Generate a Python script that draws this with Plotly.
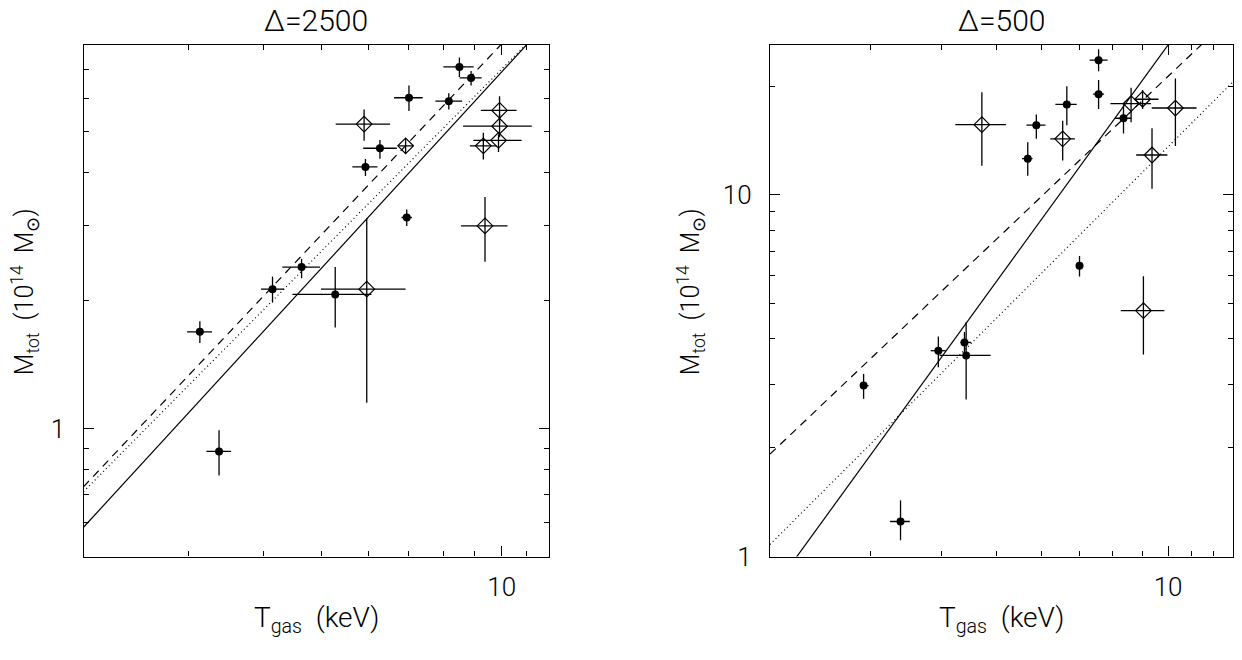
import numpy as np
import plotly.graph_objects as go

# ---------------- Delta = 2500 ----------------
# filled circles
c1_T    = [8.50, 8.89, 7.00, 8.16, 6.26, 5.92, 6.94, 4.63, 4.14, 5.27, 3.13, 3.37]
c1_T_lo = [7.99, 8.51, 6.61, 7.75, 5.87, 5.63, 6.80, 4.30, 3.96, 4.47, 2.98, 3.21]
c1_T_hi = [8.98, 9.26, 7.38, 8.59, 6.68, 6.20, 7.08, 4.97, 4.33, 6.06, 3.28, 3.53]
c1_M    = [7.10, 6.69, 6.01, 5.90, 4.57, 4.13, 3.14, 2.40, 2.13, 2.07, 1.69, 0.884]
c1_M_lo = [6.72, 6.42, 5.59, 5.64, 4.32, 3.93, 3.00, 2.26, 1.98, 1.73, 1.59, 0.776]
c1_M_hi = [7.47, 6.95, 6.42, 6.16, 4.78, 4.31, 3.28, 2.51, 2.28, 2.40, 1.79, 0.992]
# open diamonds
d1_T    = [5.89, 6.91, 9.92, 9.92, 9.88, 9.32, 9.38, 5.95]
d1_T_lo = [5.28, 6.72, 9.23, 8.62, 8.97, 8.85, 8.55, 4.99]
d1_T_hi = [6.51, 7.12, 10.59, 11.23, 10.80, 9.81, 10.23, 6.91]
d1_M    = [5.21, 4.63, 5.61, 5.15, 4.77, 4.63, 3.00, 2.13]
d1_M_lo = [4.76, 4.44, 5.21, 4.85, 4.48, 4.30, 2.47, 1.15]
d1_M_hi = [5.64, 4.81, 6.06, 5.50, 4.93, 4.97, 3.51, 3.13]
# power-law relations: M = norm * (T/2)^slope  (solid, dashed, dotted)
fit1_norm  = [0.586, 0.730, 0.711]
fit1_slope = [1.533, 1.491, 1.4225]

# ---------------- Delta = 500 ----------------
c2_T    = [7.55, 7.55, 6.64, 5.87, 5.67, 8.35, 6.99, 2.92, 3.95, 4.39, 4.42, 3.39]
c2_T_lo = [7.28, 7.38, 6.34, 5.64, 5.54, 8.07, 6.90, 2.88, 3.83, 4.32, 3.97, 3.25]
c2_T_hi = [7.83, 7.72, 6.91, 6.09, 5.78, 8.61, 7.08, 2.98, 4.07, 4.51, 4.88, 3.52]
c2_M    = [23.6, 19.0, 17.8, 15.6, 12.6, 16.3, 6.37, 2.97, 3.71, 3.91, 3.60, 1.25]
c2_M_lo = [22.0, 17.3, 15.6, 14.3, 11.3, 14.8, 5.95, 2.73, 3.34, 3.64, 2.72, 1.11]
c2_M_hi = [25.3, 20.8, 20.0, 16.7, 14.0, 17.8, 6.78, 3.20, 4.06, 4.18, 4.45, 1.43]
d2_T    = [4.71, 6.53, 8.61, 9.02, 10.3, 9.37, 9.05]
d2_T_lo = [4.23, 6.21, 7.92, 8.75, 9.36, 8.79, 8.26]
d2_T_hi = [5.19, 6.86, 9.33, 9.62, 11.22, 9.97, 9.85]
d2_M    = [15.65, 14.3, 17.9, 18.4, 17.4, 12.9, 4.79]
d2_M_lo = [12.05, 12.45, 15.9, 17.3, 13.66, 10.4, 3.62]
d2_M_hi = [19.25, 16.05, 19.8, 19.5, 21.0, 15.3, 5.96]
fit2_norm  = [0.79, 1.92, 1.08]
fit2_slope = [2.171, 1.495, 1.574]

titles = ["Δ=2500", "Δ=500"]
x_ranges = [(2, 12), (2, 13)]
y_ranges = [(0.5, 8), (1, 26)]

FONT = "Roboto"
fig = go.Figure()


def err(v, lo, hi, color="black"):
    v, lo, hi = map(np.asarray, (v, lo, hi))
    return dict(type="data", symmetric=False, array=hi - v, arrayminus=v - lo,
                width=0, thickness=1.3, color=color)


def add_panel(idx, cT, cTl, cTh, cM, cMl, cMh, dT, dTl, dTh, dM, dMl, dMh, norm, slope):
    xa = "x" if idx == 0 else "x2"
    ya = "y" if idx == 0 else "y2"
    lo, hi = x_ranges[idx]
    tt = np.geomspace(lo, hi * 1.2, 200)
    styles = ["solid", "8px,6px", "1px,3px"]
    for n, s, dash in zip(norm, slope, styles):
        fig.add_trace(go.Scatter(x=tt, y=n * (tt / 2.0) ** s, mode="lines",
                                 line=dict(color="black", width=1.2, dash=dash),
                                 xaxis=xa, yaxis=ya, showlegend=False, hoverinfo="skip"))
    fig.add_trace(go.Scatter(x=dT, y=dM, mode="markers",
                             marker=dict(symbol="diamond-open", size=12, color="black",
                                         line=dict(width=1.2, color="black")),
                             error_x=err(dT, dTl, dTh), error_y=err(dM, dMl, dMh),
                             xaxis=xa, yaxis=ya, showlegend=False))
    fig.add_trace(go.Scatter(x=cT, y=cM, mode="markers",
                             marker=dict(symbol="circle", size=8, color="black"),
                             error_x=err(cT, cTl, cTh), error_y=err(cM, cMl, cMh),
                             xaxis=xa, yaxis=ya, showlegend=False))


add_panel(0, c1_T, c1_T_lo, c1_T_hi, c1_M, c1_M_lo, c1_M_hi,
          d1_T, d1_T_lo, d1_T_hi, d1_M, d1_M_lo, d1_M_hi, fit1_norm, fit1_slope)
add_panel(1, c2_T, c2_T_lo, c2_T_hi, c2_M, c2_M_lo, c2_M_hi,
          d2_T, d2_T_lo, d2_T_hi, d2_M, d2_M_lo, d2_M_hi, fit2_norm, fit2_slope)

W, H = 1242, 660
x_dom = [(83.5 / W, 549 / W), (770 / W, 1233 / W)]
y_dom = ((H - 569.5) / H, (H - 46) / H)


def axis_common():
    return dict(type="log", showgrid=False, zeroline=False, showline=True,
                linecolor="black", linewidth=1.4, mirror="allticks",
                ticks="inside", ticklen=10, tickwidth=1.2, tickcolor="black",
                tickfont=dict(family=FONT, size=26, color="black", weight=300))


x_minor = [2, 3, 4, 5, 6, 7, 8, 9, 11, 12, 13]
y_minor = [0.5, 0.6, 0.7, 0.8, 0.9, 2, 3, 4, 5, 6, 7, 8, 9, 20]

layout = dict(width=W, height=H, margin=dict(l=0, r=0, t=0, b=0),
              paper_bgcolor="white", plot_bgcolor="white",
              font=dict(family=FONT, color="black", weight=300))
for i in range(2):
    sx = "" if i == 0 else "2"
    xa = axis_common()
    xa.update(domain=list(x_dom[i]), anchor="y" + sx,
              range=[np.log10(x_ranges[i][0]), np.log10(x_ranges[i][1])],
              tickmode="array", tickvals=[10], ticktext=["10"], ticklabelstandoff=7,
              minor=dict(tickmode="array", tickvals=x_minor, ticks="inside",
                         ticklen=5, tickwidth=1.2, tickcolor="black"))
    ya = axis_common()
    ya.update(domain=list(y_dom), anchor="x" + sx,
              range=[np.log10(y_ranges[i][0]), np.log10(y_ranges[i][1])],
              tickmode="array", tickvals=[1, 10], ticktext=["1", "10"], ticklabelstandoff=12,
              minor=dict(tickmode="array", tickvals=y_minor, ticks="inside",
                         ticklen=5, tickwidth=1.2, tickcolor="black"))
    layout["xaxis" + sx] = xa
    layout["yaxis" + sx] = ya

annotations = []
centers_x = [(83.5 + 549) / 2, (770 + 1233) / 2]
ytitle_x = [25, 691]
for i in range(2):
    annotations.append(dict(text=titles[i], x=centers_x[i] / W, y=(H - 21) / H,
                            xref="paper", yref="paper", showarrow=False,
                            xanchor="center", yanchor="middle",
                            font=dict(family=FONT, size=30, weight=300)))
    annotations.append(dict(text="T<sub>gas</sub>  (keV)", x=centers_x[i] / W, y=(H - 634) / H,
                            xref="paper", yref="paper", showarrow=False,
                            xanchor="center", yanchor="middle",
                            font=dict(family=FONT, size=28, weight=300)))
    annotations.append(dict(text="M<sub>tot</sub>  (10<sup>14</sup>  M<sub>⊙</sub>)",
                            x=ytitle_x[i] / W, y=(H - 299) / H, textangle=-90,
                            xref="paper", yref="paper", showarrow=False,
                            xanchor="center", yanchor="middle",
                            font=dict(family=FONT, size=25, weight=300)))
layout["annotations"] = annotations
fig.update_layout(**layout)
fig.write_html("out.html")
